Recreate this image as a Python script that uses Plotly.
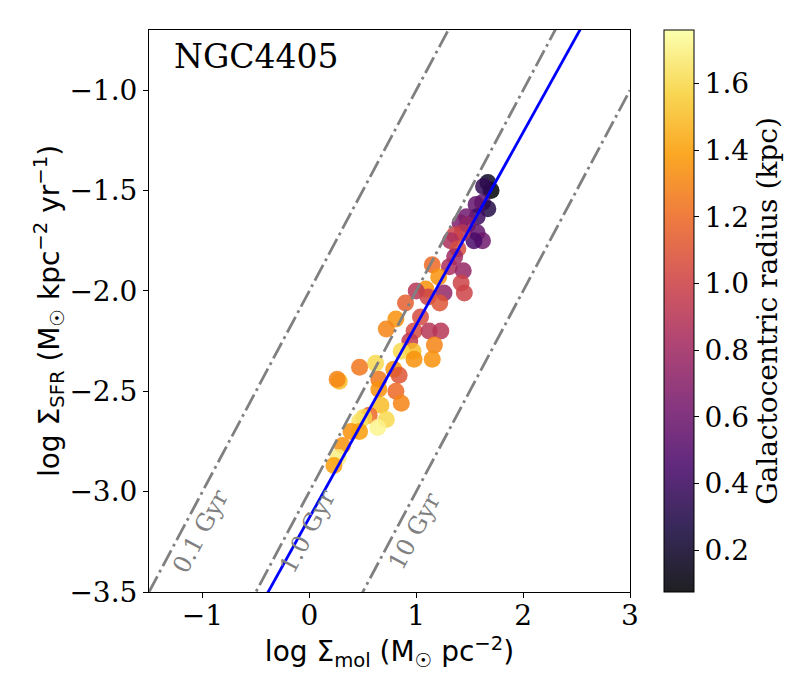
import numpy as np
import plotly.graph_objects as go
import plotly.express as px

# values
sigma_mol = [1.70, 1.67, 1.63, 1.62, 1.67, 1.56, 1.57, 1.47, 1.41, 1.48,
             1.57, 1.62, 1.54, 1.43, 1.36, 1.32, 1.39, 1.36, 1.31, 1.44,
             1.15, 1.21, 1.42, 1.45, 1.26, 1.09, 1.00, 1.11, 1.22, 0.90,
             0.81, 0.72, 1.04, 0.98, 1.12, 1.23, 0.94, 0.97, 0.86, 1.17,
             0.98, 1.15, 0.62, 0.47, 0.79, 0.84, 0.28, 0.26, 0.65, 0.65,
             0.81, 0.86, 0.67, 0.72, 0.56, 0.51, 0.47, 0.64, 0.39, 0.47,
             0.31, 0.27, 0.23]
sigma_sfr = [-1.50, -1.46, -1.48, -1.56, -1.59, -1.57, -1.63, -1.63, -1.66, -1.67,
             -1.71, -1.75, -1.75, -1.71, -1.72, -1.75, -1.79, -1.83, -1.88, -1.90,
             -1.87, -1.93, -1.96, -2.01, -2.01, -1.99, -2.00, -2.03, -2.06, -2.06,
             -2.14, -2.19, -2.13, -2.20, -2.20, -2.20, -2.25, -2.30, -2.30, -2.27,
             -2.34, -2.34, -2.36, -2.38, -2.39, -2.42, -2.45, -2.44, -2.44, -2.49,
             -2.50, -2.56, -2.57, -2.64, -2.62, -2.63, -2.65, -2.68, -2.70, -2.70,
             -2.77, -2.83, -2.87]
radius = [0.08, 0.18, 0.35, 0.50, 0.30, 0.55, 0.40, 0.60, 0.65, 0.72,
          0.55, 0.60, 0.45, 0.90, 1.00, 0.85, 1.05, 0.80, 0.85, 0.75,
          1.20, 1.35, 1.00, 1.00, 0.75, 1.35, 0.90, 1.00, 1.10, 1.15,
          1.35, 1.30, 1.05, 1.05, 0.90, 0.90, 0.95, 1.50, 1.60, 1.30,
          1.35, 1.35, 1.60, 1.25, 1.35, 1.10, 1.50, 1.30, 1.25, 1.35,
          1.20, 1.30, 1.50, 1.60, 1.20, 1.60, 1.65, 1.72, 1.35, 1.40,
          1.35, 1.70, 1.40]

depletion_times = [0.1, 1.0, 10]          # Gyr
depletion_labels = ["0.1 Gyr", "1.0 Gyr", "10 Gyr"]
fit_slope = 0.96
fit_intercept = -3.13

x_range = [-1.5, 3]
y_range = [-3.5, -0.70]
r_min, r_max = 0.075, 1.76

serif = "DejaVu Serif"
sans = "DejaVu Sans"

fig = go.Figure()

fig.add_trace(go.Scatter(
    x=sigma_mol, y=sigma_sfr, mode="markers",
    marker=dict(size=17, color=radius, colorscale="Inferno",
                cmin=r_min, cmax=r_max, opacity=0.85, line=dict(width=0)),
    showlegend=False))

# colorbar only (matplotlib draws it with the same alpha)
def blend(c, a=0.88):
    c = c.lstrip("#")
    rgb = [int(c[i:i + 2], 16) for i in (0, 2, 4)]
    return "rgb(%d,%d,%d)" % tuple(round(a * v + (1 - a) * 255) for v in rgb)

inf = px.colors.sequential.Inferno
cscale = [[i / (len(inf) - 1), blend(c)] for i, c in enumerate(inf)]
fig.add_trace(go.Scatter(
    x=sigma_mol, y=sigma_sfr, mode="markers", hoverinfo="skip",
    marker=dict(size=1, color=radius, colorscale=cscale, cmin=r_min, cmax=r_max,
                opacity=0,
                colorbar=dict(
                    x=1.0707, xanchor="left", xpad=0, ypad=0,
                    y=0.5, yanchor="middle", len=1, lenmode="fraction",
                    thickness=30, outlinewidth=1, outlinecolor="black",
                    tickvals=[0.2, 0.4, 0.6, 0.8, 1.0, 1.2, 1.4, 1.6],
                    tickformat=".1f", ticks="outside", ticklen=5,
                    tickcolor="black",
                    tickfont=dict(family=serif, size=28, color="black"),
                    title=dict(text="Galactocentric radius (kpc)", side="right",
                               font=dict(family=serif, size=28, color="black")))),
    showlegend=False))

xs = np.array(x_range)
for t, lab in zip(depletion_times, depletion_labels):
    # log SFR [Msun/kpc2/yr] = log Sigma [Msun/pc2] + 6 - log(t[yr])
    off = 6 - np.log10(t * 1e9)
    fig.add_trace(go.Scatter(
        x=xs, y=xs + off, mode="lines", showlegend=False, hoverinfo="skip",
        line=dict(color="gray", width=2.8, dash="17.8px,4.4px,2.8px,4.4px")))
    ly = -3.195
    fig.add_annotation(x=ly - off + 0.18, y=ly, text=lab, showarrow=False,
                       textangle=-62, font=dict(family=serif, size=24, color="gray"))

fig.add_trace(go.Scatter(
    x=xs, y=fit_slope * xs + fit_intercept, mode="lines", showlegend=False,
    line=dict(color="blue", width=2.8)))

fig.add_annotation(x=0.047, y=0.952, xref="paper", yref="paper", text="NGC4405",
                   showarrow=False, xanchor="left", yanchor="middle",
                   font=dict(family=serif, size=33, color="black"))

axis_common = dict(showgrid=False, zeroline=False, showline=True, linecolor="black",
                   linewidth=1, mirror=True, ticks="outside", ticklen=5,
                   tickcolor="black", tickfont=dict(family=serif, size=28, color="black"))

fig.update_xaxes(range=x_range, tickvals=[-1, 0, 1, 2, 3], **axis_common,
                 ticklabelstandoff=-7,
                 title=dict(text="log Σ<sub>mol</sub> (M<sub>☉</sub> pc<sup>−2</sup>)",
                            standoff=8,
                            font=dict(family=sans, size=28, color="black")))
fig.update_yaxes(range=y_range, tickvals=[-1.0, -1.5, -2.0, -2.5, -3.0, -3.5],
                 tickformat=".1f", **axis_common,
                 title=dict(text="log Σ<sub>SFR</sub> (M<sub>☉</sub> kpc<sup>−2</sup> yr<sup>−1</sup>)",
                            standoff=1,
                            font=dict(family=sans, size=28, color="black")))

# page body adds an 8px offset, so margins are shifted to keep the plot box in place
fig.update_layout(width=800, height=700, plot_bgcolor="white", paper_bgcolor="white",
                  margin=dict(l=141, r=178, t=22, b=116))

fig.write_html("out.html")
